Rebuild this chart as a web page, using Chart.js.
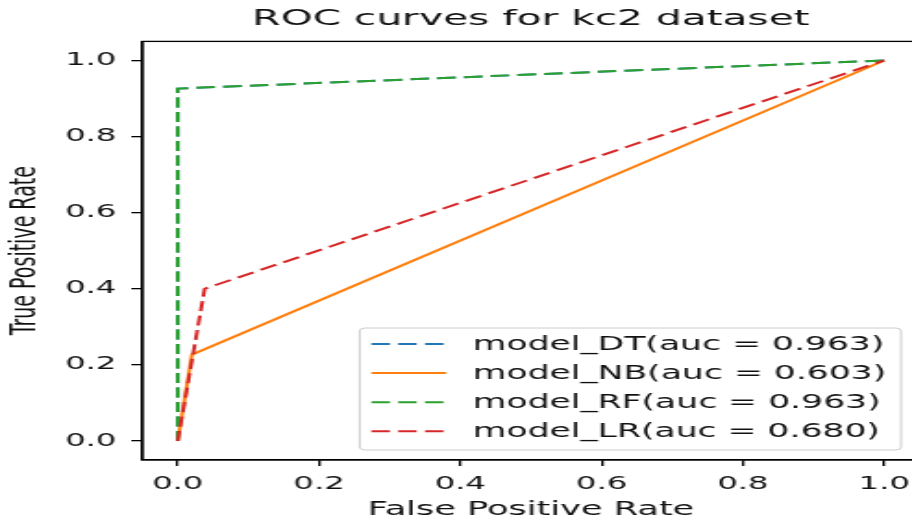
<!DOCTYPE html>
<html><head><meta charset="utf-8">
<script src="https://cdn.jsdelivr.net/npm/chart.js@4.4.0/dist/chart.umd.min.js"></script>
<style>
html,body{margin:0;padding:0;background:#fff;overflow:hidden;}
#wrap{width:912px;height:522px;overflow:hidden;position:relative;background:#fff;}
#c{position:absolute;left:0;top:0;width:500px;height:522px;transform:scaleX(1.85);transform-origin:0 0;}
</style></head><body>
<div id="wrap"><canvas id="c" width="500" height="522"></canvas></div>
<script>
// ---- data ----
const titleText = 'ROC curves for kc2 dataset';
const xLabel = 'False Positive Rate';
const yLabel = 'True Positive Rate';
const tickValues = [0, 0.2, 0.4, 0.6, 0.8, 1.0];
const modelNames = ['model_DT', 'model_NB', 'model_RF', 'model_LR'];
const aucValues = [0.963, 0.603, 0.963, 0.680];
const fprDT = [0, 0, 1];
const tprDT = [0, 0.926, 1];
const fprNB = [0, 0.02, 1];
const tprNB = [0, 0.227, 1];
const fprRF = [0, 0, 1];
const tprRF = [0, 0.926, 1];
const fprLR = [0, 0.038, 1];
const tprLR = [0, 0.40, 1];

// ---- styling ----
const FONT = '"DejaVu Sans", sans-serif';
const colors = ['#1f77b4', '#ff7f0e', '#2ca02c', '#d62728'];
const dashes = [[10, 4.5], [], [10, 4.5], [10, 4.5]];
const fprs = [fprDT, fprNB, fprRF, fprLR];
const tprs = [tprDT, tprNB, tprRF, tprLR];

const datasets = modelNames.map((n, i) => ({
  label: `${n}(auc = ${aucValues[i].toFixed(3)})`,
  data: fprs[i].map((x, k) => ({x: x, y: tprs[i][k]})),
  borderColor: colors[i],
  backgroundColor: colors[i],
  borderDash: dashes[i],
  borderWidth: 2,
  pointRadius: 0,
  fill: false,
  tension: 0,
  order: modelNames.length - i
}));

const framePlugin = {
  id: 'frame',
  afterDatasetsDraw(chart) {
    const {ctx, chartArea: a} = chart;
    ctx.save();
    ctx.strokeStyle = '#000';
    ctx.lineWidth = 1.3;
    ctx.strokeRect(a.left, a.top, a.right - a.left, a.bottom - a.top);
    ctx.restore();
  }
};

const legendPlugin = {
  id: 'mplLegend',
  afterDraw(chart) {
    const {ctx, chartArea: a} = chart;
    ctx.save();
    ctx.font = '18.7px ' + FONT;
    const labels = chart.data.datasets.map(d => d.label);
    const tw = Math.max(...labels.map(l => ctx.measureText(l).width));
    const handleLen = 40.5, padL = 6.3, gap = 14.3, padR = 8;
    const boxW = padL + handleLen + gap + tw + padR;
    const boxH = 122;
    const right = a.right - 10, bottom = a.bottom - 10;
    const left = right - boxW, top = bottom - boxH;
    ctx.beginPath();
    if (ctx.roundRect) ctx.roundRect(left, top, boxW, boxH, 3); else ctx.rect(left, top, boxW, boxH);
    ctx.fillStyle = 'rgba(255,255,255,0.8)';
    ctx.fill();
    ctx.strokeStyle = 'rgba(204,204,204,1)';
    ctx.lineWidth = 1;
    ctx.stroke();
    chart.data.datasets.forEach((d, i) => {
      const y = top + 16 + i * 29.1;
      ctx.beginPath();
      ctx.setLineDash(d.borderDash || []);
      ctx.strokeStyle = d.borderColor;
      ctx.lineWidth = d.borderWidth;
      ctx.moveTo(left + padL, y);
      ctx.lineTo(left + padL + handleLen, y);
      ctx.stroke();
      ctx.setLineDash([]);
      ctx.fillStyle = '#111';
      ctx.textBaseline = 'middle';
      ctx.textAlign = 'left';
      ctx.fillText(d.label, left + padL + handleLen + gap, y + 1);
    });
    ctx.restore();
  }
};

const axisCommon = {
  type: 'linear',
  min: -0.05,
  max: 1.05,
  afterBuildTicks(scale) { scale.ticks = tickValues.map(v => ({value: v})); },
  grid: { drawOnChartArea: false, drawTicks: true, tickLength: 6, color: '#000', lineWidth: 1.3 },
  border: { display: true, color: '#000', width: 1.3 },
  ticks: { font: {family: FONT, size: 17.5}, color: '#111', callback: v => Number(v).toFixed(1), maxRotation: 0, autoSkip: false }
};

new Chart(document.getElementById('c'), {
  type: 'line',
  data: { datasets: datasets },
  options: {
    responsive: false,
    animation: false,
    devicePixelRatio: 1,
    layout: { padding: { top: 0, left: 0, right: 2, bottom: 0 } },
    plugins: {
      legend: { display: false },
      tooltip: { enabled: false },
      title: {
        display: true, text: titleText, fullSize: false, color: '#111',
        font: { family: FONT, size: 22, weight: 'normal' },
        padding: { top: 6, bottom: 9 }
      }
    },
    scales: {
      x: Object.assign({}, axisCommon, {
        position: 'bottom',
        afterFit(scale) { scale.height = 62; },
        ticks: Object.assign({}, axisCommon.ticks, { padding: 8 }),
        title: { display: true, text: xLabel, color: '#111', font: {family: FONT, size: 19}, padding: { top: 0, bottom: 1 } }
      }),
      y: Object.assign({}, axisCommon, {
        position: 'left',
        afterFit(scale) { scale.width = 77; },
        ticks: Object.assign({}, axisCommon.ticks, { padding: 8 }),
        title: { display: true, text: yLabel, color: '#111', font: {family: FONT, size: 19}, padding: { top: 3, bottom: 0 } }
      })
    }
  },
  plugins: [framePlugin, legendPlugin]
});
</script>
</body></html>
